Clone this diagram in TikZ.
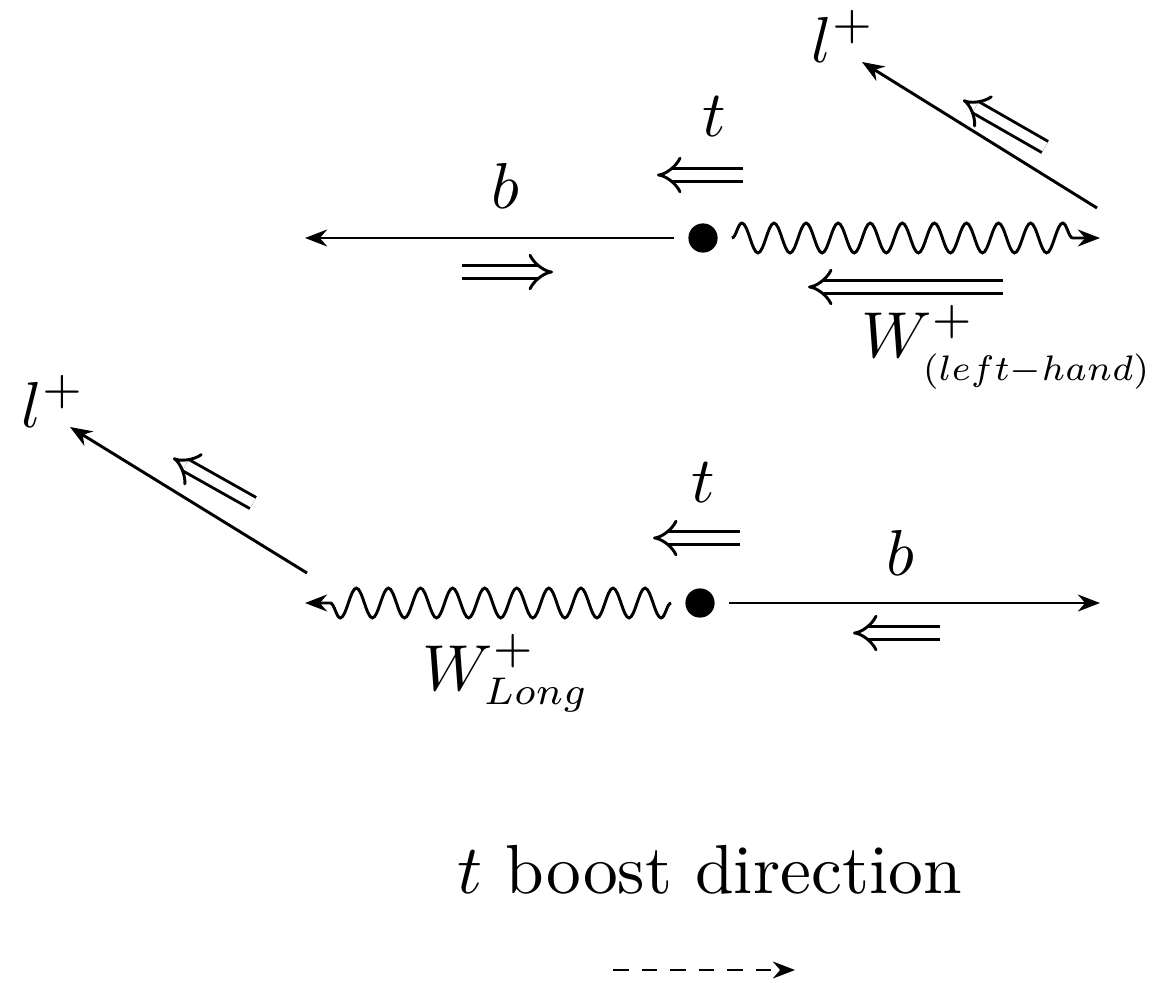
\documentclass[tikz,border=0pt]{standalone}
\usetikzlibrary{arrows.meta,decorations.pathmorphing}
\tikzset{
  vtx/.style={circle, fill=black, inner sep=0pt, minimum size=4.5pt, outer sep=2.2pt},
  lbl/.style={inner sep=0pt},
  fermion/.style={-{Stealth[length=3.4pt,width=2.6pt]}},
  boson/.style={fermion, decorate, decoration={snake, segment length=4.94pt, amplitude=2.3pt, post length=3.4pt}},
  helicity/.style={double, double distance=1.5pt, -{Implies}},
}
\newcommand{\smallsub}[2][0.85]{\scalebox{#1}{$\scriptstyle #2$}}
\begin{document}
\begin{tikzpicture}[x=0.154pt, y=-0.154pt, line width=0.45pt]
	\useasboundingbox (0,0) rectangle (1157,982);
	% upper decay: left-handed W
	\node[vtx] (vup) at (703,238) {};
	\coordinate (bup) at (305,238);
	\coordinate (wup) at (1100,238);
	\coordinate (lupstart) at (1097,208);
	\coordinate (lup) at (862,62);
	\draw[fermion] (vup) -- (bup);
	\draw[boson] (vup) -- (wup);
	\draw[fermion] (lupstart) -- (lup);
	\node[lbl] (bupl) at (505,186) {$b$};
	\node[lbl] (tupl) at (714,117) {$t$};
	\node[lbl, anchor=base west] (lupl) at (810,62) {$l^+$};
	\node[lbl, anchor=base west] (wupl) at (860,357) {$W^+_{\raisebox{-1.2pt}{\smallsub[0.78]{(left-hand)}}}$};
	\draw[helicity] (462,272) -- (553,272);
	\draw[helicity] (743,175) -- (657,175);
	\draw[helicity] (1003,287) -- (808,287);
	\draw[helicity] (1045,147) -- (963,100);
	% lower decay: longitudinal W
	\node[vtx] (vlo) at (700,603) {};
	\coordinate (blo) at (1100,603);
	\coordinate (wlo) at (305,603);
	\coordinate (llostart) at (307,573);
	\coordinate (llo) at (70,427);
	\draw[fermion] (vlo) -- (blo);
	\draw[boson] (vlo) -- (wlo);
	\draw[fermion] (llostart) -- (llo);
	\node[lbl] (blol) at (900,553) {$b$};
	\node[lbl] (tlol) at (703,483) {$t$};
	\node[lbl, anchor=base west] (llol) at (20,427) {$l^+$};
	\node[lbl, anchor=base west] (wlol) at (421,690) {$W^+_{\smallsub{Long}}$};
	\draw[helicity] (740,538) -- (653,538);
	\draw[helicity] (940,633) -- (853,633);
	\draw[helicity] (253,503) -- (173,458);
	% boost direction
	\node[lbl, anchor=base west, scale=1.07] (boost) at (456,893) {$t$ boost direction};
	\coordinate (boostfrom) at (613,970);
	\coordinate (boostto) at (795,970);
	\draw[fermion, dash pattern=on 2.4pt off 2pt] (boostfrom) -- (boostto);
\end{tikzpicture}
\end{document}
